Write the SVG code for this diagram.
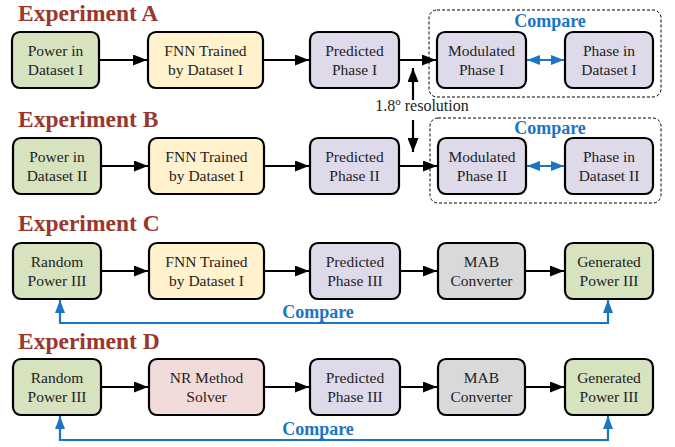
<svg xmlns="http://www.w3.org/2000/svg" width="675" height="447" viewBox="0 0 675 447">
<defs>
<marker id="ah" viewBox="0 0 14 11" refX="14" refY="5.5" markerWidth="14" markerHeight="11" markerUnits="userSpaceOnUse" orient="auto"><path d="M0,0 L14,5.5 L0,11 Z" fill="#000"/></marker>
<marker id="bh" viewBox="0 0 13 10" refX="13" refY="5" markerWidth="13" markerHeight="10" markerUnits="userSpaceOnUse" orient="auto-start-reverse"><path d="M0,0 L13,5 L0,10 Z" fill="#1a75c4"/></marker>
</defs>
<style>
.t{font-family:"Liberation Serif","Times New Roman",serif;font-size:23.5px;font-weight:bold;fill:#9a372c}
.n{stroke:#000;stroke-width:2.2}
.g{fill:#d7e2bf}.y{fill:#fff2cc}.p{fill:#dfdaea}.gr{fill:#d9d9d9}.pk{fill:#f2dcdb}
.l{font-family:"Liberation Serif","Times New Roman",serif;font-size:15.5px;fill:#222;text-anchor:middle}
.c{font-family:"Liberation Serif","Times New Roman",serif;font-size:18px;font-weight:bold;fill:#1a75c4;text-anchor:middle}
.a{stroke:#000;stroke-width:2.2;fill:none;marker-end:url(#ah)}
.bb{stroke:#1a75c4;stroke-width:2.2;fill:none;marker-end:url(#bh);marker-start:url(#bh)}
.d{fill:none;stroke:#000;stroke-width:1;stroke-dasharray:3,2}
</style>
<g id="titles">
<text class="t" x="18" y="21">Experiment A</text>
<text class="t" x="18" y="127">Experiment B</text>
<text class="t" x="18" y="231">Experiment C</text>
<text class="t" x="18" y="349">Experiment D</text>
</g>
<g id="compareA"><rect class="d" x="429" y="10" width="232" height="87" rx="8"/><text class="c" x="550" y="27">Compare</text></g>
<g id="compareB"><rect class="d" x="430" y="118" width="231" height="85" rx="8"/><text class="c" x="550" y="134">Compare</text></g>
<g id="A1"><rect class="n g" x="12" y="32" width="87" height="56" rx="8"/><text class="l" x="55.5" y="56">Power in</text><text class="l" x="55.5" y="75">Dataset I</text></g>
<g id="A2"><rect class="n y" x="148" y="32" width="115" height="56" rx="8"/><text class="l" x="205.5" y="56">FNN Trained</text><text class="l" x="205.5" y="75">by Dataset I</text></g>
<g id="A3"><rect class="n p" x="310" y="32" width="89" height="56" rx="8"/><text class="l" x="354.5" y="56">Predicted</text><text class="l" x="354.5" y="75">Phase I</text></g>
<g id="A4"><rect class="n p" x="437" y="32" width="89" height="56" rx="8"/><text class="l" x="481.5" y="56">Modulated</text><text class="l" x="481.5" y="75">Phase I</text></g>
<g id="A5"><rect class="n p" x="565" y="32" width="88" height="56" rx="8"/><text class="l" x="609" y="56">Phase in</text><text class="l" x="609" y="75">Dataset I</text></g>
<g id="B1"><rect class="n g" x="13" y="138" width="88" height="56" rx="8"/><text class="l" x="57" y="162">Power in</text><text class="l" x="57" y="181">Dataset II</text></g>
<g id="B2"><rect class="n y" x="149" y="138" width="115" height="56" rx="8"/><text class="l" x="206.5" y="162">FNN Trained</text><text class="l" x="206.5" y="181">by Dataset I</text></g>
<g id="B3"><rect class="n p" x="310" y="138" width="89" height="56" rx="8"/><text class="l" x="354.5" y="162">Predicted</text><text class="l" x="354.5" y="181">Phase II</text></g>
<g id="B4"><rect class="n p" x="438" y="138" width="88" height="56" rx="8"/><text class="l" x="482" y="162">Modulated</text><text class="l" x="482" y="181">Phase II</text></g>
<g id="B5"><rect class="n p" x="565" y="138" width="88" height="56" rx="8"/><text class="l" x="609" y="162">Phase in</text><text class="l" x="609" y="181">Dataset II</text></g>
<g id="C1"><rect class="n g" x="13" y="243" width="88" height="56" rx="8"/><text class="l" x="57" y="267">Random</text><text class="l" x="57" y="286">Power III</text></g>
<g id="C2"><rect class="n y" x="149" y="243" width="115" height="56" rx="8"/><text class="l" x="206.5" y="267">FNN Trained</text><text class="l" x="206.5" y="286">by Dataset I</text></g>
<g id="C3"><rect class="n p" x="310" y="243" width="90" height="56" rx="8"/><text class="l" x="355" y="267">Predicted</text><text class="l" x="355" y="286">Phase III</text></g>
<g id="C4"><rect class="n gr" x="438" y="243" width="87" height="56" rx="8"/><text class="l" x="481.5" y="267">MAB</text><text class="l" x="481.5" y="286">Converter</text></g>
<g id="C5"><rect class="n g" x="565" y="243" width="88" height="56" rx="8"/><text class="l" x="609" y="267">Generated</text><text class="l" x="609" y="286">Power III</text></g>
<g id="D1"><rect class="n g" x="13" y="359" width="88" height="56" rx="8"/><text class="l" x="57" y="383">Random</text><text class="l" x="57" y="402">Power III</text></g>
<g id="D2"><rect class="n pk" x="149" y="359" width="115" height="56" rx="8"/><text class="l" x="206.5" y="383">NR Method</text><text class="l" x="206.5" y="402">Solver</text></g>
<g id="D3"><rect class="n p" x="310" y="359" width="90" height="56" rx="8"/><text class="l" x="355" y="383">Predicted</text><text class="l" x="355" y="402">Phase III</text></g>
<g id="D4"><rect class="n gr" x="438" y="359" width="87" height="56" rx="8"/><text class="l" x="481.5" y="383">MAB</text><text class="l" x="481.5" y="402">Converter</text></g>
<g id="D5"><rect class="n g" x="565" y="359" width="88" height="56" rx="8"/><text class="l" x="609" y="383">Generated</text><text class="l" x="609" y="402">Power III</text></g>
<g id="resolution"><text class="l" x="422" y="111" style="font-size:16px">1.8<tspan dy="-6" style="font-size:11px">o</tspan><tspan dy="6"> resolution</tspan></text></g>
<g id="connectors">
<path class="a" d="M99,60 H147"/>
<path class="a" d="M263,60 H309"/>
<path class="a" d="M399,60 H436"/>
<path class="bb" d="M527,60 H564"/>
<path class="a" d="M413,100 V68"/>
<path class="a" d="M413,120 V152"/>
<path class="a" d="M101,166 H148"/>
<path class="a" d="M264,166 H309"/>
<path class="a" d="M399,166 H437"/>
<path class="bb" d="M527,166 H564"/>
<path class="a" d="M101,271 H148"/>
<path class="a" d="M264,271 H309"/>
<path class="a" d="M400,271 H437"/>
<path class="a" d="M525,271 H564"/>
<path class="bb" d="M60,300 V323 H608 V300"/>
<path class="a" d="M101,387 H148"/>
<path class="a" d="M264,387 H309"/>
<path class="a" d="M400,387 H437"/>
<path class="a" d="M525,387 H564"/>
<path class="bb" d="M60,416 V440 H608 V416"/>
</g>
<g id="compareLabels">
<text class="c" x="318" y="318">Compare</text>
<text class="c" x="318" y="435">Compare</text>
</g>
</svg>
